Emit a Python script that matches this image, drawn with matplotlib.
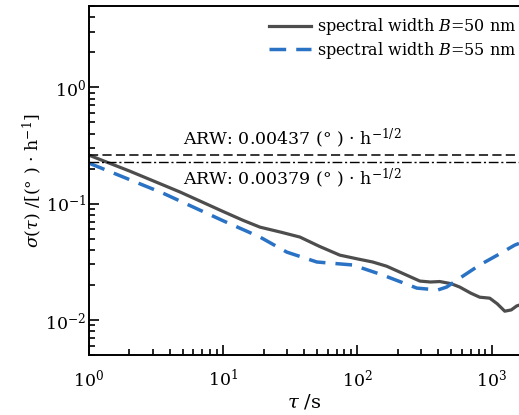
import matplotlib
matplotlib.use("Agg")
import matplotlib.pyplot as plt
from matplotlib.ticker import LogLocator, NullFormatter

plt.rcParams["font.family"] = ["DejaVu Serif"]
plt.rcParams["mathtext.fontset"] = "dejavuserif"

# Allan deviation curves
tau_50 = [1, 2.02, 4.76, 10, 14, 18.8, 27, 37.3, 52, 73.9, 100, 130, 165, 207, 292, 350, 411, 500,
          578, 700, 815, 968, 1100, 1253, 1400, 1538, 1600]
sigma_50 = [0.261, 0.190, 0.126, 0.0855, 0.0720, 0.0628, 0.0568, 0.0516, 0.0430, 0.0361, 0.0335,
            0.0315, 0.0290, 0.0258, 0.0216, 0.0212, 0.0214, 0.0205, 0.0192, 0.0170, 0.0157, 0.0154,
            0.0138, 0.0119, 0.0122, 0.0132, 0.0134]

tau_55 = [1, 3.56, 10, 18.8, 29.8, 49.9, 92.4, 155, 277, 397, 463, 600, 815, 1100, 1486, 1600]
sigma_55 = [0.223, 0.123, 0.0712, 0.0516, 0.0383, 0.0315, 0.0297, 0.0243, 0.0188, 0.0181, 0.0192,
            0.0235, 0.0297, 0.0360, 0.0440, 0.0455]

# Angle random walk reference levels, (°)/h^(1/2) -> sigma at tau = 1 s in (°)/h
arw_50 = 0.00437
arw_55 = 0.00379
arw_level_50 = arw_50 * 60
arw_level_55 = arw_55 * 60

fig = plt.figure(figsize=(5.19, 4.15), dpi=100)
ax = fig.add_axes([0.1715, 0.1446, 0.8285, 0.8409])

ax.plot(tau_50, sigma_50, color="#4d4d4d", lw=2.3, label=r"spectral width $B$=50 nm")
ax.plot(tau_55, sigma_55, color="#2a72c4", lw=2.5, dashes=(4.8, 2.9),
        label=r"spectral width $B$=55 nm")

ax.axhline(arw_level_50, color="black", lw=1.1, dashes=(6, 2.8))
ax.axhline(arw_level_55, color="black", lw=1.0, dashes=(7, 2, 1.5, 2))

ax.text(0.4725, 0.602, r"ARW: 0.00437 (° ) · h$^{-1/2}$", transform=ax.transAxes,
        ha="center", va="baseline", fontsize=12.5)
ax.text(0.4725, 0.488, r"ARW: 0.00379 (° ) · h$^{-1/2}$", transform=ax.transAxes,
        ha="center", va="baseline", fontsize=12.5)

ax.set_xscale("log")
ax.set_yscale("log")
ax.set_xlim(1, 1600)
ax.set_ylim(0.005, 5)

ax.xaxis.set_major_locator(LogLocator(base=10, numticks=10))
ax.xaxis.set_minor_locator(LogLocator(base=10, subs=range(2, 10), numticks=20))
ax.yaxis.set_major_locator(LogLocator(base=10, numticks=10))
ax.yaxis.set_minor_locator(LogLocator(base=10, subs=range(2, 10), numticks=20))
ax.xaxis.set_minor_formatter(NullFormatter())
ax.yaxis.set_minor_formatter(NullFormatter())

ax.tick_params(which="both", direction="in", top=False, right=False, labelsize=12.5, width=1.2)
ax.tick_params(which="major", length=7)
ax.tick_params(which="minor", length=4)
ax.tick_params(axis="x", which="major", pad=10)
ax.tick_params(axis="y", which="major", pad=2)

for s in ["left", "bottom", "top"]:
    ax.spines[s].set_linewidth(1.4)
ax.spines["right"].set_visible(False)

ax.set_xlabel(r"$\tau$ /s", fontsize=14, labelpad=1)
ax.set_ylabel(r"$\sigma(\tau)$ /[(° ) · h$^{-1}$]", fontsize=12.5, labelpad=1)

leg = ax.legend(loc="upper right", frameon=False, fontsize=11.5, handlelength=2.6,
                handletextpad=0.4, borderaxespad=0.0, borderpad=0.15, labelspacing=0.15,
                bbox_to_anchor=(1.0, 0.977))

fig.savefig("out.png", dpi=100)
